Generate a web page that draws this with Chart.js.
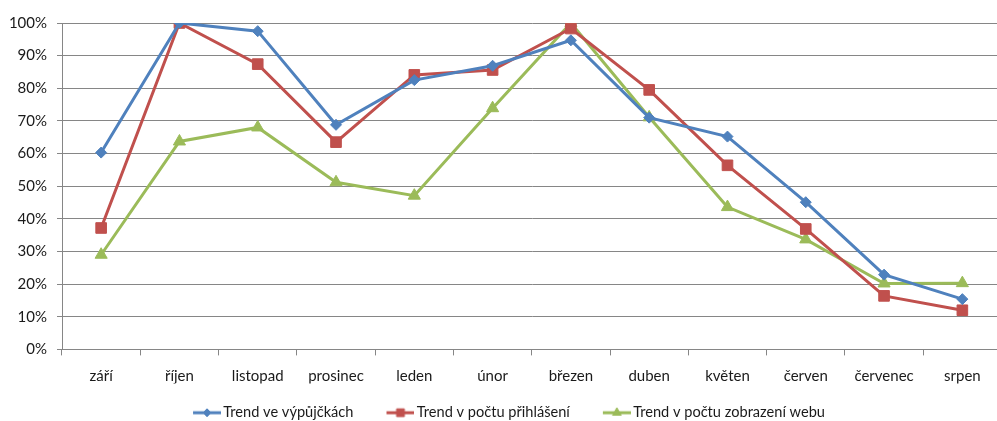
<!DOCTYPE html>
<html>
<head>
<meta charset="utf-8">
<script src="https://cdn.jsdelivr.net/npm/chart.js@4"></script>
<style>
  html, body { margin: 0; padding: 0; background: #fff; overflow: hidden; width: 997px; height: 421px; }
  #wrap { position: absolute; left: 0; top: 0; width: 1010px; height: 430px; }
</style>
</head>
<body>
<div id="wrap"><canvas id="c" width="1010" height="430"></canvas></div>
<script>
// Months of the school year, September to August
const months = ['září', 'říjen', 'listopad', 'prosinec', 'leden', 'únor', 'březen', 'duben', 'květen', 'červen', 'červenec', 'srpen'];

// Relative trends, percent of the yearly maximum
const loansTrend  = [60.3, 100, 97.5, 68.8, 82.5, 86.9, 94.7, 71.0, 65.2, 45.1, 22.9, 15.4];
const loginsTrend = [37.2, 100, 87.4, 63.5, 84.1, 85.6, 98.3, 79.5, 56.4, 36.9, 16.4, 12.0];
const viewsTrend  = [29.0, 63.7, 68.0, 51.2, 47.1, 73.9, 100, 71.1, 43.6, 33.7, 20.2, 20.3];

const seriesNames = ['Trend ve výpůjčkách', 'Trend v počtu přihlášení', 'Trend v počtu zobrazení webu'];

const colors = ['#4F81BD', '#C0504D', '#9BBB59'];
const markers = ['rectRot', 'rect', 'triangle'];
const markerRadius = [5.5, 7.5, 7];
const legendMarkerRadius = [4, 5.5, 5];
const axisGray = '#868686';
const textColor = '#1a1a1a';
const font = { family: 'Lato, "Open Sans", sans-serif', size: 15 };
const legendFont = { family: 'Lato, "Open Sans", sans-serif', size: 14.6 };

// Legend swatch: transparent lead-in on the left, then a line with the marker
const SWATCH_W = 44, LINE_W = 28;
function makeSwatch(i) {
  const cv = document.createElement('canvas');
  cv.width = SWATCH_W; cv.height = 14;
  const ctx = cv.getContext('2d');
  const x0 = SWATCH_W - LINE_W;
  ctx.strokeStyle = colors[i];
  ctx.fillStyle = colors[i];
  ctx.lineWidth = 3;
  ctx.beginPath();
  ctx.moveTo(x0, 7); ctx.lineTo(SWATCH_W, 7);
  ctx.stroke();
  ctx.lineWidth = 1;
  Chart.helpers.drawPoint(ctx, { pointStyle: markers[i], radius: legendMarkerRadius[i], rotation: 0, borderWidth: 1 }, x0 + LINE_W / 2, 7);
  return cv;
}

const seriesData = [loansTrend, loginsTrend, viewsTrend];
const datasets = seriesData.map((d, i) => ({
  label: seriesNames[i],
  data: d,
  borderColor: colors[i],
  backgroundColor: colors[i],
  borderWidth: 3,
  tension: 0,
  pointStyle: markers[i],
  pointRadius: markerRadius[i],
  pointHoverRadius: markerRadius[i],
  pointBorderWidth: 1,
  pointBorderColor: colors[i],
  pointBackgroundColor: colors[i]
}));

const swatches = [0, 1, 2].map(makeSwatch);

new Chart(document.getElementById('c'), {
  type: 'line',
  data: { labels: months, datasets },
  options: {
    responsive: false,
    animation: false,
    devicePixelRatio: 1,
    layout: { padding: { top: 23, right: 3, bottom: 0, left: 0 } },
    plugins: {
      tooltip: { enabled: false },
      legend: {
        position: 'bottom',
        labels: {
          usePointStyle: true,
          pointStyleWidth: 34,
          boxHeight: 14,
          padding: 22,
          color: textColor,
          font: legendFont,
          generateLabels(chart) {
            return chart.data.datasets.map((ds, i) => ({
              text: ds.label,
              pointStyle: swatches[i],
              fillStyle: colors[i],
              strokeStyle: colors[i],
              lineWidth: 0,
              hidden: false,
              datasetIndex: i,
              fontColor: textColor
            }));
          }
        }
      }
    },
    scales: {
      x: {
        offset: true,
        grid: { display: true, drawOnChartArea: false, drawTicks: true, tickLength: 6, color: axisGray, offset: true },
        border: { display: true, color: axisGray, width: 1 },
        ticks: { color: textColor, font, padding: 12, maxRotation: 0, autoSkip: false },
        afterFit(s) { s.height = 34; }
      },
      y: {
        min: 0,
        max: 100,
        ticks: { stepSize: 10, color: textColor, font, padding: 10, callback: v => v + '%' },
        grid: { color: axisGray, drawTicks: true, tickLength: 5 },
        border: { display: true, color: axisGray, width: 1 },
        afterFit(s) { s.width = 62; }
      }
    }
  }
});
</script>
</body>
</html>
